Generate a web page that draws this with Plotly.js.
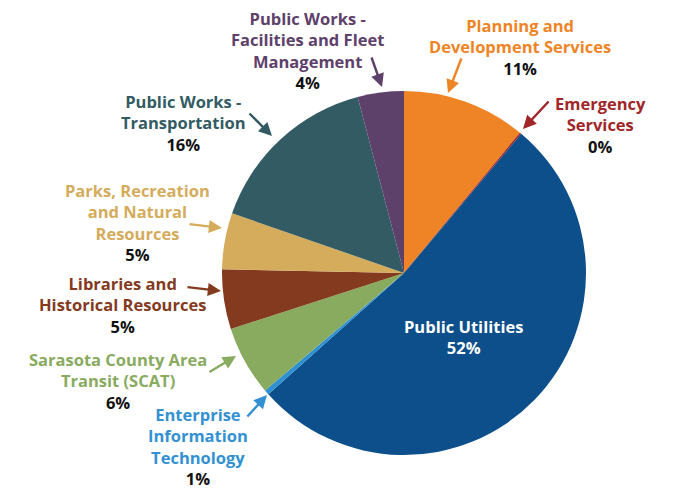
<!DOCTYPE html>
<html>
<head>
<meta charset="utf-8">
<script src="https://cdn.plot.ly/plotly-3.0.1.min.js"></script>
<style>html,body{margin:0;padding:0;background:#fff}#chart{width:680px;height:493px}</style>
</head>
<body>
<div id="chart"></div>
<script>
// Data (clockwise from 12 o'clock)
const departments = [
  "Planning and Development Services",
  "Emergency Services",
  "Public Utilities",
  "Enterprise Information Technology",
  "Sarasota County Area Transit (SCAT)",
  "Libraries and Historical Resources",
  "Parks, Recreation and Natural Resources",
  "Public Works - Transportation",
  "Public Works - Facilities and Fleet Management"
];
const shares = [11.0, 0.15, 52.3, 0.45, 6.2, 5.3, 5.0, 15.6, 4.1];
const percentLabels = ["11%", "0%", "52%", "1%", "6%", "5%", "5%", "16%", "4%"];
const displayLines = [
  ["Planning and", "Development Services"],
  ["Emergency", "Services"],
  ["Public Utilities"],
  ["Enterprise", "Information", "Technology"],
  ["Sarasota County Area", "Transit (SCAT)"],
  ["Libraries and", "Historical Resources"],
  ["Parks, Recreation", "and Natural", "Resources"],
  ["Public Works -", "Transportation"],
  ["Public Works -", "Facilities and Fleet", "Management"]
];
const sliceColors = ["#EE8425", "#9E2328", "#0D4F8B", "#2F90D2", "#89AB5F", "#833A1E", "#D4AC5B", "#325B63", "#5E416B"];
const textColors  = ["#EE8425", "#A0262A", "#FFFFFF", "#3391D1", "#89AB5F", "#833A1E", "#D4AC5B", "#325B63", "#5E416B"];

// Layout helpers (pixel -> paper)
const W = 680, H = 493;
const px = x => x / W;
const py = y => 1 - y / H;

// Label block centers (pixels)
const labelPos = [
  [520, 47.5], [600, 125], [463, 337], [198, 446], [118, 381],
  [122, 304.5], [137, 222.5], [183, 122.5], [307, 51]
];
// Arrow tail -> head (pixels); null for none
const arrows = [
  [[462, 57], [448, 93]],
  [[550, 100], [523, 129]],
  null,
  [[246, 418], [267, 395]],
  [[208, 373], [236, 356]],
  [[186, 287], [221, 291]],
  [[188, 224], [222, 228]],
  [[248, 112], [272, 136]],
  [[371, 56], [382, 87]]
];

const cx = 404, cy = 273, R = 182;
const trace = {
  type: "pie",
  labels: departments,
  values: shares,
  sort: false,
  direction: "clockwise",
  rotation: 0,
  marker: { colors: sliceColors, line: { width: 0 } },
  textinfo: "none",
  hoverinfo: "label+percent",
  domain: { x: [px(cx - R), px(cx + R)], y: [py(cy + R), py(cy - R)] },
  showlegend: false
};

const FONT = "'Open Sans', Lato, sans-serif";
const annotations = [];
departments.forEach((d, i) => {
  const pctColor = i === 2 ? "#FFFFFF" : "#111111";
  annotations.push({
    xref: "paper", yref: "paper",
    x: px(labelPos[i][0]), y: py(labelPos[i][1]),
    xanchor: "center", yanchor: "middle", align: "center",
    showarrow: false, borderpad: 0,
    text: displayLines[i].join("<br>") + "<br><span style='color:" + pctColor + "'>" + percentLabels[i] + "</span>",
    font: { family: FONT, size: 16.5, color: textColors[i], weight: 700 }
  });
  const a = arrows[i];
  if (a) {
    annotations.push({
      xref: "paper", yref: "paper",
      x: px(a[1][0]), y: py(a[1][1]),
      axref: "pixel", ayref: "pixel",
      ax: a[0][0] - a[1][0], ay: a[0][1] - a[1][1],
      text: "", showarrow: true,
      arrowhead: 2, arrowsize: 1.1, arrowwidth: 2.4,
      arrowcolor: textColors[i],
      standoff: 0, startstandoff: 0
    });
  }
});

const layout = {
  width: W, height: H,
  margin: { l: 0, r: 0, t: 0, b: 0 },
  paper_bgcolor: "#ffffff",
  plot_bgcolor: "#ffffff",
  annotations: annotations
};

Plotly.newPlot("chart", [trace], layout, { displayModeBar: false, staticPlot: true });
</script>
</body>
</html>
